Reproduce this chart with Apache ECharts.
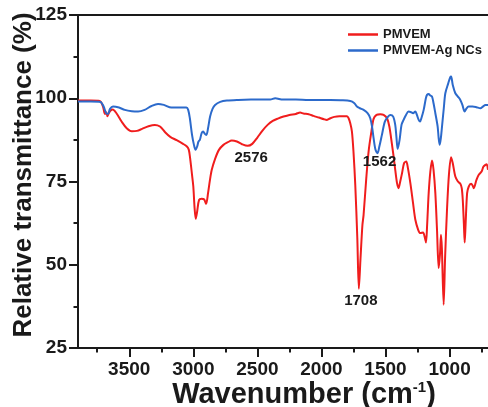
<!DOCTYPE html>
<html>
<head>
<meta charset="utf-8">
<script src="https://cdn.jsdelivr.net/npm/echarts@6/dist/echarts.min.js"></script>
<style>
  html, body { margin: 0; padding: 0; background: #fff; }
  #chart { width: 488px; height: 407px; }
</style>
</head>
<body>
<div id="chart"></div>
<script>
// FTIR spectra: wavenumber (cm-1) and relative transmittance (%)
const pmvemWn = [3900,3800,3730,3705,3690,3680,3670,3660,3645,3629,3600,3560,3520,3480,3440,3400,3350,3300,3260,3220,3180,3130,3080,3050,3035,3025,3010,3000,2990,2981,2970,2955,2935,2915,2900,2885,2870,2856,2830,2800,2765,2730,2700,2660,2620,2576,2540,2500,2460,2420,2380,2340,2296,2250,2200,2166,2140,2100,2062,2020,1980,1957,1930,1900,1860,1827,1800,1788,1775,1762,1750,1736,1720,1708,1695,1680,1671,1650,1632,1610,1593,1570,1541,1515,1488,1470,1449,1435,1424,1410,1398,1385,1371,1355,1338,1325,1306,1285,1267,1245,1228,1207,1195,1184,1175,1163,1150,1137,1125,1111,1098,1085,1075,1067,1060,1046,1035,1020,1005,988,975,955,935,916,905,897,888,882,875,863,850,832,820,811,790,772,750,735,720,710,700];
const pmvemT = [99.3,99.3,99.2,97.5,95.3,95.8,94.6,95.5,96.3,96.6,95.5,93.0,91.0,90.1,90.2,90.8,91.6,92.0,91.5,89.8,88.4,87.4,86.3,85.5,84.5,82.0,77.0,73.5,67.0,63.8,66.0,69.5,69.8,69.6,68.3,71.5,75.5,78.5,81.8,84.5,86.0,86.8,87.3,87.0,86.2,85.7,86.3,88.2,90.3,92.0,93.2,93.9,94.5,95.0,95.3,95.7,95.4,95.2,94.7,94.2,93.7,93.5,94.0,94.4,94.6,94.6,94.6,94.0,92.5,90.0,84.0,74.0,58.0,42.8,52.0,62.0,65.0,76.0,84.0,90.0,93.8,95.0,95.2,95.0,94.0,91.5,86.0,82.0,78.5,74.5,73.0,75.0,77.5,80.5,81.0,79.0,74.5,68.5,63.5,60.5,59.5,59.7,58.5,56.7,62.0,71.5,78.0,81.3,78.5,71.5,60.5,49.0,53.0,59.0,55.0,38.0,52.0,66.5,77.0,82.3,80.5,76.5,75.0,74.3,73.0,69.5,62.0,56.7,62.0,71.5,73.5,74.3,73.8,73.0,75.5,77.0,78.0,79.5,80.0,80.2,78.5];

const agWn = [3900,3800,3725,3700,3680,3666,3650,3627,3580,3535,3480,3431,3380,3330,3275,3230,3171,3110,3054,3040,3027,3010,2995,2983,2970,2960,2949,2935,2923,2910,2898,2885,2869,2850,2830,2790,2738,2650,2550,2400,2361,2300,2200,2100,2000,1931,1850,1775,1745,1723,1700,1671,1640,1619,1605,1593,1578,1562,1548,1528,1505,1480,1462,1440,1424,1415,1405,1390,1375,1359,1340,1320,1300,1285,1267,1255,1241,1230,1220,1202,1185,1176,1163,1150,1137,1125,1111,1093,1085,1077,1068,1059,1045,1033,1010,995,988,975,955,935,916,900,882,870,851,820,790,759,740,720,700];
const agT = [99.0,99.0,98.9,97.5,95.5,95.3,96.8,97.5,97.2,96.5,96.1,96.0,96.5,97.6,98.3,98.0,97.2,97.2,97.2,96.5,94.0,89.0,86.0,84.5,85.5,87.0,87.5,89.5,90.0,89.3,89.0,91.0,94.5,96.8,98.0,98.9,99.3,99.5,99.6,99.6,100.0,99.6,99.6,99.5,99.5,99.5,99.4,99.2,98.6,97.5,97.0,96.5,95.5,94.0,91.5,88.0,84.5,83.5,85.5,89.0,93.0,94.5,95.0,94.5,92.0,88.5,84.8,87.5,92.0,93.5,95.0,96.0,95.8,95.5,96.0,95.0,93.5,93.0,94.0,96.5,100.0,101.0,101.3,100.8,100.5,98.5,95.5,91.5,88.0,86.0,88.0,91.5,97.0,101.5,104.5,106.3,106.5,104.0,101.5,100.5,99.5,98.0,96.0,96.8,97.5,97.5,97.3,97.0,97.5,98.0,98.0];

// axis ticks
const xMajorTicks = [1000, 1500, 2000, 2500, 3000, 3500];
const xMinorTicks = [750, 1250, 1750, 2250, 2750, 3250, 3750];
const xRange = [700, 3900];
const yRange = [25, 125];
const yStep = 25;

// annotated band positions (wavenumbers)
const bandPMVEM = [2576, 1708];
const bandAg = [1562];

const seriesNames = ['PMVEM', 'PMVEM-Ag NCs'];

const zip = (xs, ys) => xs.map((x, i) => [x, ys[i]]);
const tAt = (xs, ys, w) => ys[xs.indexOf(w)];

const FONT = "'Liberation Sans', Arial, sans-serif";
const AX = '#1a1a1a';
const RED = '#f01d1d';
const BLUE = '#2c6acb';

const bandLabel = (offset) => ({
  show: true, position: 'inside', offset: offset,
  color: '#1a1a1a', fontFamily: FONT, fontWeight: 'bold', fontSize: 15,
  formatter: (p) => String(p.data.coord[0])
});

const chart = echarts.init(document.getElementById('chart'), null, { renderer: 'canvas' });

const baseX = {
  type: 'value', inverse: true, min: xRange[0], max: xRange[1],
  splitLine: { show: false }, gridIndex: 0
};

chart.setOption({
  animation: false,
  backgroundColor: '#ffffff',
  grid: { left: 78, right: 0, top: 15, bottom: 59, containLabel: false, outerBoundsMode: 'none' },
  legend: {
    data: [
      { name: seriesNames[0], itemStyle: { color: RED } },
      { name: seriesNames[1], itemStyle: { color: BLUE } }
    ],
    icon: 'rect',
    orient: 'vertical', left: 348, top: 28,
    itemWidth: 30, itemHeight: 2.5, itemGap: 3, padding: 0,
    textStyle: { fontFamily: FONT, fontWeight: 'bold', fontSize: 13, color: '#1a1a1a' }
  },
  xAxis: [
    Object.assign({}, baseX, {
      position: 'bottom',
      axisLine: { show: true, lineStyle: { color: AX, width: 2 } },
      axisTick: { show: true, length: 9, customValues: xMajorTicks, lineStyle: { color: AX, width: 2 } },
      axisLabel: {
        show: true, customValues: xMajorTicks, margin: 12,
        formatter: (v) => String(v),
        fontFamily: FONT, fontWeight: 'bold', fontSize: 19, color: '#1a1a1a'
      },
      name: 'Wavenumber (cm{sup|-1})',
      nameLocation: 'middle', nameGap: 32, nameMoveOverlap: false,
      nameTextStyle: {
        fontFamily: FONT, fontWeight: 'bold', fontSize: 29, color: '#1a1a1a',
        padding: [0, 0, 0, 42],
        rich: { sup: { fontFamily: FONT, fontWeight: 'bold', fontSize: 15, color: '#1a1a1a', verticalAlign: 'top', padding: [0, 0, 10, 0] } }
      }
    }),
    Object.assign({}, baseX, {
      position: 'bottom',
      axisLine: { show: false },
      axisTick: { show: true, length: 4.5, customValues: xMinorTicks, lineStyle: { color: AX, width: 2 } },
      axisLabel: { show: false }
    }),
    Object.assign({}, baseX, {
      position: 'top',
      axisLine: { show: true, lineStyle: { color: AX, width: 2 } },
      axisTick: { show: false },
      axisLabel: { show: false }
    })
  ],
  yAxis: {
    type: 'value', min: yRange[0], max: yRange[1], interval: yStep,
    splitLine: { show: false },
    axisLine: { show: true, lineStyle: { color: AX, width: 2 } },
    axisTick: { show: true, length: 9, lineStyle: { color: AX, width: 2 } },
    minorTick: { show: true, splitNumber: 2, length: 4.5, lineStyle: { color: AX, width: 2 } },
    axisLabel: { margin: 11, fontFamily: FONT, fontWeight: 'bold', fontSize: 19, color: '#1a1a1a' },
    name: 'Relative transmittance (%)',
    nameLocation: 'middle', nameGap: 41, nameMoveOverlap: false,
    nameTextStyle: { fontFamily: FONT, fontWeight: 'bold', fontSize: 26, color: '#1a1a1a', padding: [0, 0, 0, 13] }
  },
  series: [
    {
      name: seriesNames[0], type: 'line', xAxisIndex: 0, yAxisIndex: 0,
      data: zip(pmvemWn, pmvemT),
      symbol: 'none', smooth: 0.3,
      lineStyle: { color: RED, width: 2 },
      itemStyle: { color: RED },
      markPoint: {
        symbol: 'circle', symbolSize: 0, silent: true,
        data: [
          { coord: [bandPMVEM[0], tAt(pmvemWn, pmvemT, bandPMVEM[0])], label: bandLabel([3.5, 11.5]) },
          { coord: [bandPMVEM[1], tAt(pmvemWn, pmvemT, bandPMVEM[1])], label: bandLabel([2, 12]) }
        ]
      },
      z: 2
    },
    {
      name: seriesNames[1], type: 'line', xAxisIndex: 0, yAxisIndex: 0,
      data: zip(agWn, agT),
      symbol: 'none', smooth: 0.3,
      lineStyle: { color: BLUE, width: 2 },
      itemStyle: { color: BLUE },
      markPoint: {
        symbol: 'circle', symbolSize: 0, silent: true,
        data: [
          { coord: [bandAg[0], tAt(agWn, agT, bandAg[0])], label: bandLabel([2, 9]) }
        ]
      },
      z: 3
    }
  ]
});
</script>
</body>
</html>
